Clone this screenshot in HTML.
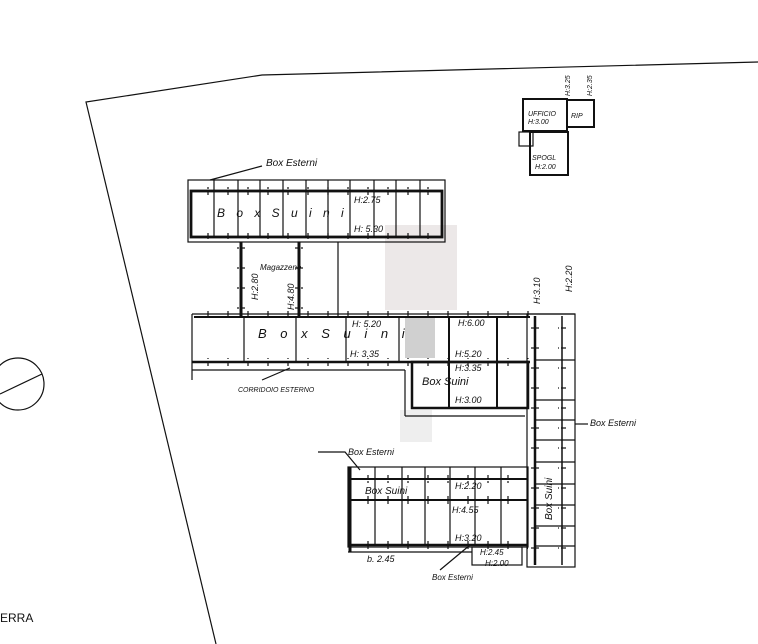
<!DOCTYPE html>
<html><head><meta charset="utf-8"><style>
html,body{margin:0;padding:0;background:#fff;}
svg{display:block}
text{font-family:"Liberation Sans",sans-serif;fill:#111;}
</style></head><body>
<svg width="758" height="644" viewBox="0 0 758 644" xmlns="http://www.w3.org/2000/svg">
<defs>
<pattern id="tk" width="20" height="10" patternUnits="userSpaceOnUse"><line x1="8" y1="1" x2="8" y2="9" stroke="#111" stroke-width="1.2"/></pattern>
<pattern id="tkv" width="10" height="20" patternUnits="userSpaceOnUse"><line x1="1" y1="8" x2="9" y2="8" stroke="#111" stroke-width="1.2"/></pattern>
</defs>
<rect x="385" y="225" width="72" height="85" fill="#ece8e8"/>
<rect x="405" y="318" width="30" height="40" fill="#d0d0d0"/>
<rect x="400" y="410" width="32" height="32" fill="#eee"/>
<g fill="none" stroke="#111" stroke-width="1.2">
<polyline points="758,62 262,75 86,102 216,644"/>
<circle cx="18" cy="384" r="26"/>
<line x1="0" y1="394" x2="42" y2="374"/>
<rect x="188" y="180" width="257" height="62"/>
<rect x="191" y="191" width="251" height="46" stroke-width="2.8"/>
<g>
<line x1="214" y1="180" x2="214" y2="238"/><line x1="238" y1="180" x2="238" y2="238"/>
<line x1="260" y1="180" x2="260" y2="238"/><line x1="283" y1="180" x2="283" y2="238"/>
<line x1="306" y1="180" x2="306" y2="238"/><line x1="328" y1="180" x2="328" y2="238"/>
<line x1="350" y1="180" x2="350" y2="238"/><line x1="374" y1="180" x2="374" y2="238"/>
<line x1="396" y1="180" x2="396" y2="238"/><line x1="420" y1="180" x2="420" y2="238"/>
</g>
<line x1="210" y1="180" x2="262" y2="166"/>
<line x1="241" y1="242" x2="241" y2="316" stroke-width="3"/>
<line x1="299" y1="242" x2="299" y2="316" stroke-width="3"/>
<line x1="338" y1="242" x2="338" y2="316"/>
<polyline points="192,314 575,314"/>
<line x1="194" y1="317" x2="530" y2="317" stroke-width="2"/>
<line x1="192" y1="314" x2="192" y2="380"/>
<line x1="192" y1="362" x2="530" y2="362" stroke-width="2.5"/>
<line x1="192" y1="370" x2="405" y2="370"/>
<line x1="405" y1="370" x2="405" y2="416"/>
<line x1="405" y1="416" x2="525" y2="416"/>
<g>
<line x1="244" y1="316" x2="244" y2="362"/><line x1="296" y1="316" x2="296" y2="362"/>
<line x1="346" y1="316" x2="346" y2="362"/><line x1="399" y1="316" x2="399" y2="362"/>
<line x1="449" y1="316" x2="449" y2="408" stroke-width="2"/><line x1="497" y1="316" x2="497" y2="408" stroke-width="2"/>
</g>
<rect x="412" y="362" width="116" height="46" stroke-width="2.5"/>
<line x1="262" y1="380" x2="290" y2="368"/>
<rect x="527" y="314" width="48" height="253"/>
<line x1="535" y1="316" x2="535" y2="565" stroke-width="2.5"/>
<line x1="562" y1="316" x2="562" y2="565" stroke-width="1.5"/>
<g>
<line x1="535" y1="360" x2="575" y2="360"/><line x1="535" y1="400" x2="575" y2="400"/>
<line x1="535" y1="420" x2="575" y2="420"/><line x1="535" y1="440" x2="575" y2="440"/>
<line x1="535" y1="462" x2="575" y2="462"/><line x1="535" y1="484" x2="575" y2="484"/>
<line x1="535" y1="505" x2="575" y2="505"/><line x1="535" y1="526" x2="575" y2="526"/>
<line x1="535" y1="546" x2="575" y2="546"/>
</g>
<line x1="575" y1="424" x2="588" y2="424"/>
<rect x="348" y="467" width="180" height="80"/>
<line x1="350" y1="479" x2="528" y2="479" stroke-width="2"/>
<line x1="350" y1="500" x2="528" y2="500" stroke-width="2"/>
<line x1="350" y1="545" x2="528" y2="545" stroke-width="2.5"/>
<line x1="350" y1="467" x2="350" y2="552" stroke-width="3"/>
<g>
<line x1="375" y1="467" x2="375" y2="545"/><line x1="402" y1="467" x2="402" y2="545"/>
<line x1="425" y1="467" x2="425" y2="545"/><line x1="450" y1="467" x2="450" y2="545"/>
<line x1="475" y1="467" x2="475" y2="545"/><line x1="501" y1="467" x2="501" y2="545"/>
</g>
<rect x="472" y="547" width="50" height="18"/>
<line x1="348" y1="552" x2="472" y2="552"/>
<polyline points="318,452 345,452 360,470"/>
<line x1="440" y1="570" x2="470" y2="545"/>
<rect x="523" y="99" width="44" height="32" stroke-width="2"/>
<rect x="567" y="100" width="27" height="27" stroke-width="2"/>
<rect x="519" y="132" width="14" height="14"/>
<rect x="530" y="132" width="38" height="43" stroke-width="2"/>
</g>
<rect x="192" y="187" width="250" height="8" fill="url(#tk)"/>
<rect x="192" y="233" width="250" height="8" fill="url(#tk)"/>
<rect x="194" y="310" width="336" height="8" fill="url(#tk)"/>
<rect x="194" y="358" width="336" height="8" fill="url(#tk)"/>
<rect x="237" y="245" width="8" height="68" fill="url(#tkv)"/>
<rect x="295" y="245" width="8" height="68" fill="url(#tkv)"/>
<rect x="531" y="318" width="8" height="245" fill="url(#tkv)"/>
<rect x="558" y="318" width="8" height="245" fill="url(#tkv)"/>
<rect x="352" y="475" width="176" height="8" fill="url(#tk)"/>
<rect x="352" y="496" width="176" height="8" fill="url(#tk)"/>
<rect x="352" y="541" width="176" height="8" fill="url(#tk)"/>
<g font-size="9" font-style="italic">
<text x="266" y="166" font-size="10">Box Esterni</text>
<text x="217" y="217" font-size="12" letter-spacing="4">B o x  S u i n i</text>
<text x="354" y="203">H:2.75</text><text x="354" y="232">H: 5.30</text>
<text x="260" y="270" font-size="8">Magazzeno</text>
<text x="258" y="338" font-size="13" letter-spacing="5">B o x   S u i n i</text>
<text x="352" y="327">H: 5.20</text><text x="350" y="357">H: 3.35</text>
<text x="458" y="326">H:6.00</text><text x="455" y="357">H:5.20</text>
<text x="455" y="371">H:3.35</text><text x="455" y="403">H:3.00</text>
<text x="422" y="385" font-size="11">Box  Suini</text>
<text x="238" y="392" font-size="7">CORRIDOIO ESTERNO</text>
<text x="590" y="426" font-size="9">Box Esterni</text>
<text x="348" y="455" font-size="9">Box Esterni</text>
<text x="365" y="494" font-size="10">Box  Suini</text>
<text x="455" y="489">H:2.20</text><text x="452" y="513">H:4.55</text>
<text x="455" y="541">H:3.20</text><text x="480" y="555" font-size="8">H:2.45</text>
<text x="485" y="566" font-size="8">H:2.00</text>
<text x="367" y="562" font-size="9">b. 2.45</text>
<text x="432" y="580" font-size="8">Box Esterni</text>
<text x="528" y="116" font-size="7">UFFICIO</text><text x="528" y="124" font-size="7">H:3.00</text>
<text x="571" y="118" font-size="7">RIP</text>
<text x="532" y="160" font-size="7">SPOGL</text><text x="535" y="169" font-size="7">H:2.00</text>
<text x="0" y="622" font-size="12" font-style="normal">ERRA</text>
<text transform="translate(258,300) rotate(-90)">H:2.80</text>
<text transform="translate(294,310) rotate(-90)">H:4.80</text>
<text transform="translate(540,304) rotate(-90)">H:3.10</text>
<text transform="translate(572,292) rotate(-90)">H:2.20</text>
<text transform="translate(570,96) rotate(-90)" font-size="7">H:3.25</text>
<text transform="translate(592,96) rotate(-90)" font-size="7">H:2.35</text>
<text transform="translate(552,520) rotate(-90)" font-size="10">Box  Suini</text>
</g>
</svg>
</body></html>
